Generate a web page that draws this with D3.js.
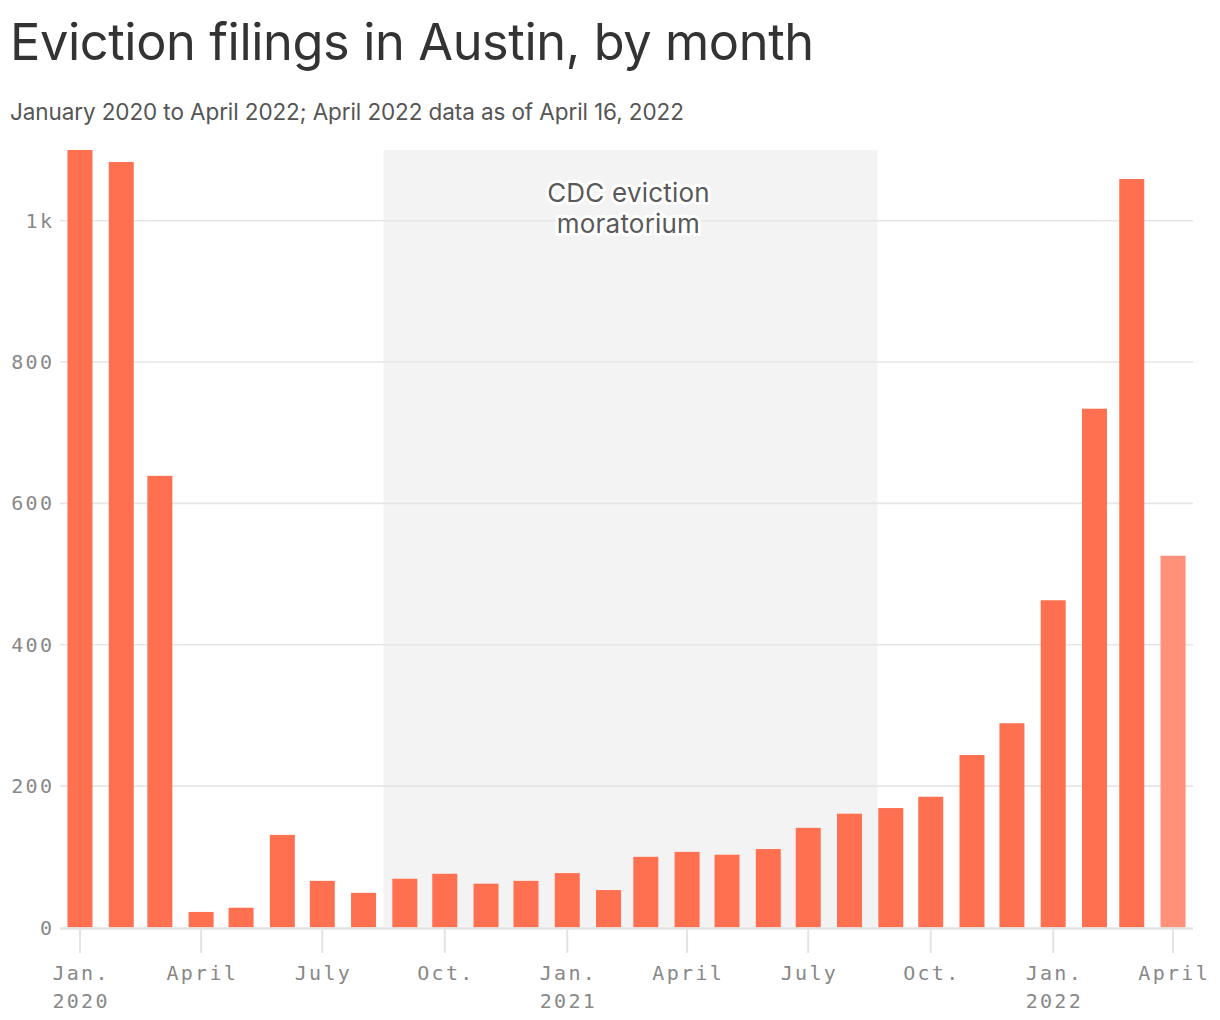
<!DOCTYPE html>
<html>
<head>
<meta charset="utf-8">
<script src="https://cdn.jsdelivr.net/npm/d3@7"></script>
<style>
  html, body { margin: 0; padding: 0; background: #fff; }
  svg { display: block; }
</style>
</head>
<body>
<svg id="chart" width="1220" height="1020"></svg>
<script>
// ---- Data ----
const months = [
  "2020-01","2020-02","2020-03","2020-04","2020-05","2020-06","2020-07","2020-08",
  "2020-09","2020-10","2020-11","2020-12","2021-01","2021-02","2021-03","2021-04",
  "2021-05","2021-06","2021-07","2021-08","2021-09","2021-10","2021-11","2021-12",
  "2022-01","2022-02","2022-03","2022-04"
];
const filings = [
  1100, 1083, 639, 22, 28, 131, 66, 49,
  69, 76, 62, 66, 77, 53, 100, 107,
  103, 111, 141, 161, 169, 185, 244, 289,
  463, 734, 1059, 526
];
const partialMonth = "2022-04";
const yTicks = [0, 200, 400, 600, 800, 1000];
const yTickLabels = ["0", "200", "400", "600", "800", "1k"];
const xTickDates = ["2020-01","2020-04","2020-07","2020-10","2021-01","2021-04","2021-07","2021-10","2022-01","2022-04"];
const xTickLabels = [["Jan.","2020"],["April"],["July"],["Oct."],["Jan.","2021"],["April"],["July"],["Oct."],["Jan.","2022"],["April"]];
const shadeRange = ["2020-08-16", "2021-08-22"];
const shadeLabel = ["CDC eviction", "moratorium"];
const title = "Eviction filings in Austin, by month";
const subtitle = "January 2020 to April 2022; April 2022 data as of April 16, 2022";

// ---- Setup ----
const svg = d3.select("#chart");
const parseMonth = d3.utcParse("%Y-%m");
const parseDay = d3.utcParse("%Y-%m-%d");
const data = months.map((m, i) => ({ date: parseMonth(m), value: filings[i], partial: m === partialMonth }));

const x = d3.scaleUtc()
  .domain([parseDay("2019-12-17"), parseDay("2022-04-16")])
  .range([60, 1193]);
const y = d3.scaleLinear().domain([0, 1100]).range([927.5, 150]);
const barW = 25;

const monoFont = "'DejaVu Sans Mono', monospace";
const sansFont = "Inter, 'Noto Sans', sans-serif";

// Title / subtitle
svg.append("text").attr("x", 10).attr("y", 60)
  .attr("font-family", sansFont).attr("font-size", 50.5).attr("fill", "#333")
  .attr("letter-spacing", -0.4)
  .text(title);
svg.append("text").attr("x", 10).attr("y", 120)
  .attr("font-family", sansFont).attr("font-size", 22.5).attr("fill", "#555")
  .attr("letter-spacing", -0.1)
  .text(subtitle);

// Shade
svg.append("rect")
  .attr("x", x(parseDay(shadeRange[0])))
  .attr("width", x(parseDay(shadeRange[1])) - x(parseDay(shadeRange[0])))
  .attr("y", y(1100)).attr("height", y(0) - y(1100))
  .attr("fill", "#f3f3f3");

// Gridlines
svg.append("g").selectAll("line").data(yTicks.filter(d => d > 0)).join("line")
  .attr("x1", x.range()[0]).attr("x2", x.range()[1])
  .attr("y1", d => y(d)).attr("y2", d => y(d))
  .attr("stroke", "#e6e6e6").attr("stroke-width", 1.6);

// Y labels
svg.append("g").selectAll("text").data(yTicks).join("text")
  .attr("x", 52 + 2.3).attr("y", d => y(d)).attr("dy", "0.35em")
  .attr("text-anchor", "end")
  .attr("font-family", monoFont).attr("font-size", 20).attr("fill", "#888")
  .attr("letter-spacing", 2.3)
  .text((d, i) => yTickLabels[i]);

// Bars
svg.append("g").selectAll("rect").data(data).join("rect")
  .attr("x", d => x(d.date) - barW / 2)
  .attr("width", barW)
  .attr("y", d => y(d.value))
  .attr("height", d => y(0) - y(d.value))
  .attr("fill", d => d.partial ? "#ff917a" : "#ff7051");

// Baseline
svg.append("line")
  .attr("x1", x.range()[0]).attr("x2", x.range()[1])
  .attr("y1", y(0) + 1).attr("y2", y(0) + 1)
  .attr("stroke", "#e3e3e3").attr("stroke-width", 2.5);

// X ticks
const xt = svg.append("g").selectAll("g").data(xTickDates).join("g")
  .attr("transform", d => `translate(${x(parseMonth(d))},0)`);
xt.append("line").attr("y1", y(0) + 2).attr("y2", 953)
  .attr("stroke", "#e3e3e3").attr("stroke-width", 2);
xt.each(function(d, i) {
  const g = d3.select(this);
  xTickLabels[i].forEach((t, j) => {
    g.append("text").attr("x", 1.15).attr("y", 980 + j * 28)
      .attr("text-anchor", "middle")
      .attr("font-family", monoFont).attr("font-size", 20).attr("fill", "#888")
      .attr("letter-spacing", 2.3)
      .text(t);
  });
});

// Shade label
const cx = (x(parseDay(shadeRange[0])) + x(parseDay(shadeRange[1]))) / 2;
shadeLabel.forEach((t, j) => {
  svg.append("text").attr("x", cx - 2).attr("y", 202 + j * 31)
    .attr("text-anchor", "middle")
    .attr("font-family", sansFont).attr("font-size", 26).attr("fill", "#595959")
    .attr("letter-spacing", 0.2)
    .attr("stroke", "#fff").attr("stroke-width", 6).attr("stroke-linejoin", "round")
    .attr("paint-order", "stroke")
    .text(t);
});
</script>
</body>
</html>
